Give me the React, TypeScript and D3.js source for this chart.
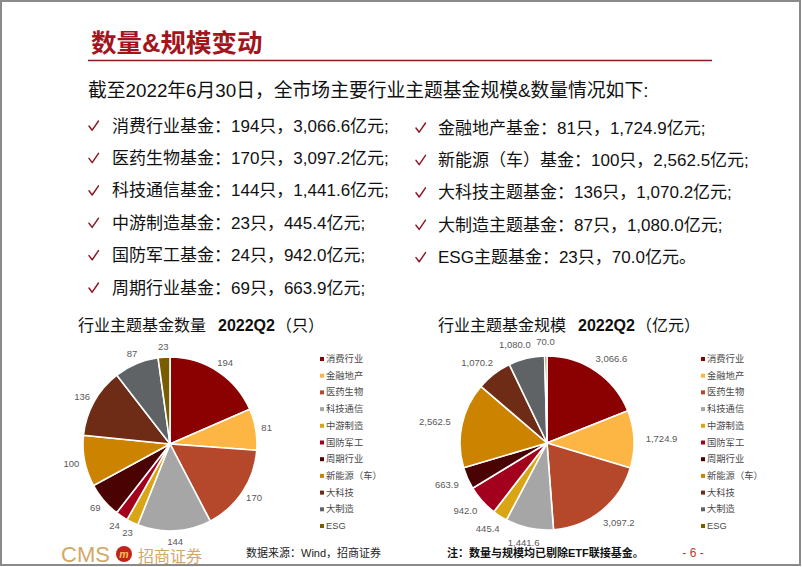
import React from "react";
import * as d3 from "d3";

const categories = ["消费行业", "金融地产", "医药生物", "科技通信", "中游制造", "国防军工", "周期行业", "新能源（车）", "大科技", "大制造", "ESG"];
const counts = [194, 81, 170, 144, 23, 24, 69, 100, 136, 87, 23];
const sizes = [3066.6, 1724.9, 3097.2, 1441.6, 445.4, 942.0, 663.9, 2562.5, 1070.2, 1080.0, 70.0];
const colors = ["#8B0000", "#FDB643", "#B5472A", "#A6A6A6", "#D9A514", "#A3001E", "#4A0202", "#CC8400", "#6E2B16", "#5F6366", "#7A5C00"];

const leftListNames = ["消费行业基金", "医药生物基金", "科技通信基金", "中游制造基金", "国防军工基金", "周期行业基金"];
const leftListIdx = [0, 2, 3, 4, 5, 6];
const rightListNames = ["金融地产基金", "新能源（车）基金", "大科技主题基金", "大制造主题基金", "ESG主题基金"];
const rightListIdx = [1, 7, 8, 9, 10];

const mainTitle = "数量&规模变动";
const introText = "截至2022年6月30日，全市场主要行业主题基金规模&数量情况如下:";
const leftTitle = ["行业主题基金数量", "2022Q2", "（只）"];
const rightTitle = ["行业主题基金规模", "2022Q2", "（亿元）"];
const sourceText = "数据来源：Wind，招商证券";
const noteText = "注：数量与规模均已剔除ETF联接基金。";

const fmtSize = d3.format(",.1f");
const CJK = "'Liberation Sans', Arial, 'Noto Sans CJK SC', sans-serif";
const LAT = "'Liberation Sans', Arial, sans-serif";

function Pie({ cx, cy, r, values, fmt, legendX, off }: { cx: number; cy: number; r: number; values: number[]; fmt: (v: number) => string; legendX: number; off: number }) {
  const pie = d3.pie<number>().sort(null).value((d) => d)(values);
  const arc = d3.arc<d3.PieArcDatum<number>>().innerRadius(0).outerRadius(r);
  const fs = 9.5;
  const legendY = d3.scalePoint<number>().domain(d3.range(categories.length)).range([359, 526]);
  const labels = pie.map((p, i) => {
    const a = (p.startAngle + p.endAngle) / 2;
    const text = fmt(values[i]);
    const w = text.length * fs * 0.53;
    const h = fs;
    const s = Math.sin(a), c = Math.cos(a);
    return { text, w, h, x: cx + (r + off) * s + (s * w) / 2, y: cy - (r + off) * c - (c * h) / 2 };
  });
  // simple collision avoidance between neighbouring labels
  for (let i = labels.length - 2; i >= 0; i--) {
    const A = labels[i], B = labels[i + 1];
    const ox = (A.w + B.w) / 2 + 3 - Math.abs(A.x - B.x);
    const oy = (A.h + B.h) / 2 - Math.abs(A.y - B.y);
    if (ox > 0 && oy > 0) {
      if (A.x < B.x) A.x -= ox; else B.x -= ox;
    }
  }
  return (
    <g>
      <g transform={`translate(${cx},${cy})`}>
        {pie.map((p, i) => (
          <path key={i} d={arc(p) || ""} fill={colors[i]} stroke="#fff" strokeWidth={1.6} />
        ))}
      </g>
      {labels.map((l, i) => (
        <text key={i} x={l.x} y={l.y} textAnchor="middle" dominantBaseline="central" fontSize={fs} fill="#595959" fontFamily={LAT}>
          {l.text}
        </text>
      ))}
      {categories.map((cat, i) => (
        <g key={cat} transform={`translate(${legendX},${legendY(i)})`}>
          <rect x={0} y={-2} width={4} height={4} fill={colors[i]} />
          <text x={6} y={0} dominantBaseline="central" fontSize={9.3} fill="#4a4a4a" fontFamily={CJK}>
            {cat}
          </text>
        </g>
      ))}
    </g>
  );
}

function Check({ x, y }: { x: number; y: number }) {
  return (
    <path d={`M${x},${y} L${x + 3.2},${y + 4.2} L${x + 9.5},${y - 5}`} fill="none" stroke="#8B1A2B" strokeWidth={1.5} strokeLinecap="round" strokeLinejoin="round" />
  );
}

export default function App() {
  const rowY = d3.scaleLinear().domain([0, 1]).range([125, 157.4]);
  return (
    <svg width={802} height={567} style={{ position: "absolute", left: 0, top: 0, background: "#fff" }}>
      <rect x={1} y={1} width={799} height={564} fill="#fff" stroke="#8a8a8a" strokeWidth={2} />
      <text x={91} y={52} fontSize={25.5} fontWeight="bold" fill="#A0161C" fontFamily={CJK}>
        {mainTitle}
      </text>
      <line x1={88} x2={712} y1={60.5} y2={60.5} stroke="#8B1A1A" strokeWidth={1.5} />
      <text x={88} y={97} fontSize={18.8} fill="#111" fontFamily={CJK}>
        {introText}
      </text>
      {leftListNames.map((n, k) => {
        const i = leftListIdx[k];
        const y = rowY(k);
        return (
          <g key={n}>
            <Check x={89} y={y + 1} />
            <text x={112} y={y + 6.5} fontSize={17} fill="#111" fontFamily={CJK}>
              {`${n}：${counts[i]}只，${fmtSize(sizes[i])}亿元;`}
            </text>
          </g>
        );
      })}
      {rightListNames.map((n, k) => {
        const i = rightListIdx[k];
        const y = rowY(k) + 2;
        const last = k === rightListNames.length - 1;
        return (
          <g key={n}>
            <Check x={416} y={y + 1} />
            <text x={438} y={y + 6.5} fontSize={17} fill="#111" fontFamily={CJK}>
              {`${n}：${counts[i]}只，${fmtSize(sizes[i])}亿元${last ? "。" : ";"}`}
            </text>
          </g>
        );
      })}
      <text x={78} y={331} fontSize={16} fill="#111" fontFamily={CJK}>
        {leftTitle[0]}
        <tspan dx={12} fontWeight="bold" fontFamily={LAT}>{leftTitle[1]}</tspan>
        <tspan dx={1}>{leftTitle[2]}</tspan>
      </text>
      <text x={438} y={331} fontSize={16} fill="#111" fontFamily={CJK}>
        {rightTitle[0]}
        <tspan dx={12} fontWeight="bold" fontFamily={LAT}>{rightTitle[1]}</tspan>
        <tspan dx={1}>{rightTitle[2]}</tspan>
      </text>
      <Pie cx={170} cy={444} r={87} values={counts} fmt={(v) => String(v)} legendX={320} off={6} />
      <Pie cx={547} cy={443} r={87} values={sizes} fmt={fmtSize} legendX={701} off={10} />
      <g>
        <text x={61} y={562} fontSize={22} fill="#D2A865" fontFamily={LAT}>CMS</text>
        <circle cx={124} cy={554} r={8} fill="#C0231B" />
        <text x={124} y={558} fontSize={10.5} fontWeight="bold" fontStyle="italic" textAnchor="middle" fill="#F5C15A" fontFamily={LAT}>m</text>
        <text x={138} y={562} fontSize={16} fill="#D2A865" fontFamily={CJK}>招商证券</text>
      </g>
      <text x={246} y={557} fontSize={11} fill="#222" fontFamily={CJK}>{sourceText}</text>
      <text x={447} y={557} fontSize={11} fontWeight="bold" fill="#111" fontFamily={CJK}>{noteText}</text>
      <text x={693} y={557} fontSize={12} textAnchor="middle" fill="#C0392B" fontFamily={LAT}>- 6 -</text>
    </svg>
  );
}
